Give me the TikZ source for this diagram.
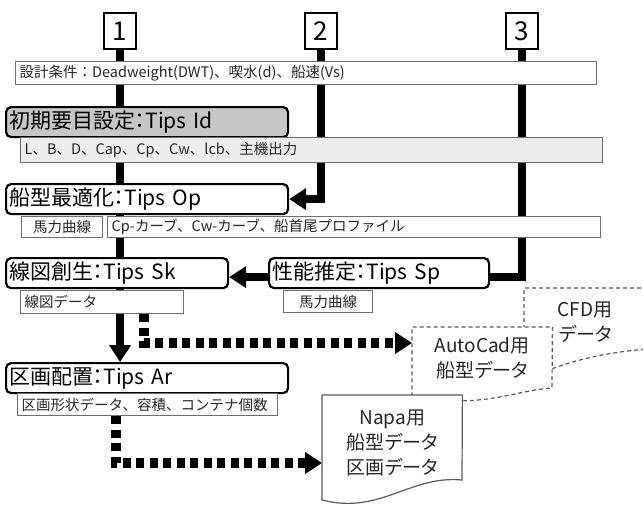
\documentclass[tikz,border=0pt]{standalone}
\usepackage{fontspec}
\setmainfont{Noto Sans CJK JP}[RawFeature=+palt]
\newfontfamily\plainjp{Noto Sans CJK JP}
\usetikzlibrary{arrows.meta,backgrounds}

\definecolor{barline}{HTML}{6E6E6E}
\definecolor{idfill}{HTML}{C6C6C6}
\definecolor{lbdfill}{HTML}{EDEDED}
\definecolor{docline}{HTML}{5A5A5A}
\definecolor{txt}{HTML}{262626}

\newcommand\bigjp{\fontsize{21}{24}\selectfont}
\newcommand\smalljp{\plainjp\fontsize{14.5}{18}\selectfont}
\newcommand\docjp{\fontsize{19}{25}\selectfont}

\tikzset{
  numbox/.style={draw, line width=2.2pt, fill=white, minimum width=32pt,
    minimum height=36pt, inner sep=0pt, anchor=north west,
    font=\fontsize{26}{26}\selectfont},
  toolbox/.style={draw, line width=2.2pt, rounded corners=5pt, fill=white,
    anchor=north west, inner xsep=3pt, inner ysep=0pt, minimum height=30pt,
    align=left, font=\bigjp},
  barbox/.style={draw=barline, line width=1.3pt, fill=white, anchor=north west,
    inner xsep=4pt, inner ysep=0pt, align=left, text=txt, font=\smalljp},
  tagbox/.style={barbox, align=center, inner xsep=0pt, minimum height=21pt},
  docbox/.style={anchor=north west, inner sep=0pt, align=center, text=txt,
    font=\docjp},
  flow/.style={line width=7.5pt},
  bigtip/.style={-{Triangle[width=21pt,length=17pt]}},
  dotflow/.style={line width=10pt, dash pattern=on 8pt off 5.5pt,
    -{Triangle[width=21pt,length=17pt]}},
}

\begin{document}
\begin{tikzpicture}[x=1pt,y=-1pt]
  \clip (0,0) rectangle (643,507);

  % step numbers
  \node[numbox] (n1) at (103,12) {1};
  \node[numbox] (n2) at (304,12) {2};
  \node[numbox] (n3) at (505,12) {3};

  % design conditions
  \node[barbox, text width=573pt, minimum height=23pt] (cond) at (15,61)
    {設計条件：Deadweight(DWT)、喫水(d)、船速(Vs)};

  % Tips Id
  \node[toolbox, fill=idfill, text width=276pt] (tid) at (5,106) {初期要目設定：Tips Id};
  \node[barbox, fill=lbdfill, text width=574pt, minimum height=25pt] (tidd) at (20,137)
    {L、B、D、Cap、Cp、Cw、lcb、主機出力};

  % Tips Op
  \node[toolbox, text width=276pt] (top) at (5,183) {船型最適化：Tips Op};
  \node[tagbox, minimum width=81pt] (toph) at (21,216) {馬力曲線};
  \node[barbox, text width=485pt, minimum height=21pt] (topd) at (107,216)
    {Cp-カーブ、Cw-カーブ、船首尾プロファイル};

  % Tips Sk and Tips Sp
  \node[toolbox, text width=216pt] (tsk) at (5,257) {線図創生：Tips Sk};
  \node[toolbox, text width=214pt] (tsp) at (268,257) {性能推定：Tips Sp};
  \node[barbox, text width=155pt, minimum height=23pt] (tskd) at (20,290) {線図データ};
  \node[tagbox, minimum width=89pt, minimum height=22pt] (tsph) at (283,290) {馬力曲線};

  % Tips Ar
  \node[toolbox, text width=276pt] (tar) at (5,362) {区画配置：Tips Ar};
  \node[barbox, text width=252pt, minimum height=22pt] (tard) at (17,393)
    {区画形状データ、容積、コンテナ個数};

  % output data
  \draw[docline, line width=1.2pt, dash pattern=on 4pt off 3pt, fill=white]
    (524,392) -- (524,288) -- (660,288) -- (660,348)
    .. controls (600,352) and (565,362) .. (524,380);
  \node[docbox, minimum width=122pt, minimum height=68pt] (cfd) at (524,288) {CFD用\\データ};
  \node[docbox, minimum width=140pt, minimum height=63pt] (acad) at (412,327) {};
  \draw[docline, line width=1.2pt, dash pattern=on 4pt off 3pt, fill=white]
    (acad.south west) ++(0,6) -- (acad.north west) -- (acad.north east) -- (552,388)
    .. controls (515,390) and (480,410) .. (412,396);
  \node[docbox, minimum width=140pt, minimum height=63pt] at (412,327) {AutoCad用\\船型データ};
  \node[docbox, minimum width=140pt, minimum height=96pt] (napa) at (322,395) {};
  \draw[docline, line width=1.2pt, fill=white]
    (napa.north west) -- (napa.north east) -- (462,480)
    .. controls (410,475) and (380,515) .. (322,500) -- cycle;
  \node[docbox, minimum width=140pt, minimum height=96pt] at (322,395) {Napa用\\船型データ\\区画データ};

  % connectors
  \begin{scope}[on background layer]
    \draw[flow, bigtip] (n1.south) -- (n1.south |- tar.north);
    \draw[flow, bigtip] (n2.south) |- (top.east);
    \draw[flow] (n3.south) |- ([yshift=-4pt]tsp.east);
    \draw[flow, bigtip] ([yshift=-4pt]tsp.west) -- ([yshift=-4pt]tsp.west -| tsk.east);
    \draw[dotflow] ([xshift=41.5pt]tskd.south) |- ([yshift=-16pt]acad.north west);
    \draw[dotflow] ([xshift=-32pt]tard.south) |- ([yshift=-68pt]napa.north west);
  \end{scope}
\end{tikzpicture}
\end{document}
